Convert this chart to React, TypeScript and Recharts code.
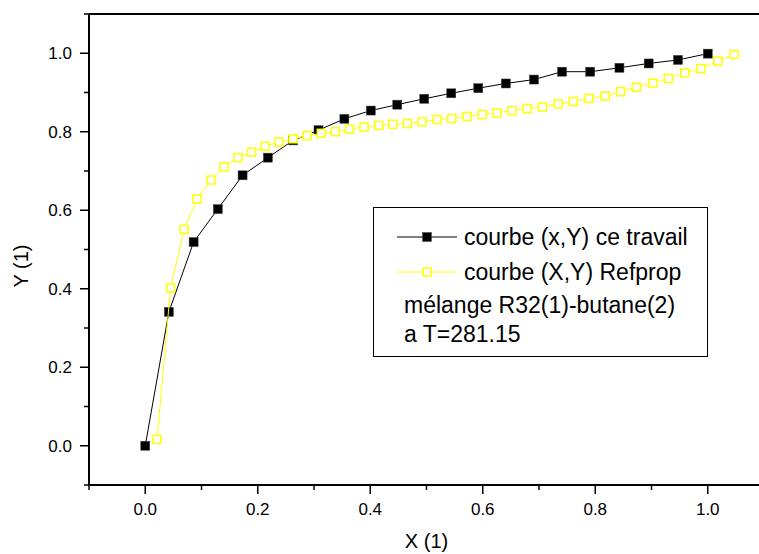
import React from 'react';
import { ScatterChart, Scatter, XAxis, YAxis, ReferenceLine } from 'recharts';

// courbe (x,Y) ce travail
const workX = [0, 0.042, 0.086, 0.129, 0.173, 0.218, 0.263, 0.308, 0.354, 0.401, 0.448, 0.496, 0.544, 0.592, 0.641, 0.691, 0.741, 0.791, 0.843, 0.895, 0.947, 1.0];
const workY = [0, 0.341, 0.519, 0.603, 0.689, 0.734, 0.778, 0.804, 0.833, 0.854, 0.869, 0.884, 0.898, 0.911, 0.923, 0.933, 0.953, 0.953, 0.963, 0.974, 0.983, 0.999];

// courbe (X,Y) Refprop
const refX = [0.021, 0.045, 0.069, 0.092, 0.117, 0.14, 0.165, 0.189, 0.213, 0.238, 0.263, 0.288, 0.313, 0.338, 0.363, 0.389, 0.415, 0.44, 0.466, 0.492, 0.519, 0.545, 0.572, 0.599, 0.625, 0.652, 0.679, 0.706, 0.734, 0.761, 0.789, 0.818, 0.845, 0.873, 0.902, 0.93, 0.959, 0.988, 1.018, 1.047];
const refY = [0.016, 0.402, 0.551, 0.629, 0.677, 0.711, 0.734, 0.748, 0.763, 0.774, 0.782, 0.79, 0.796, 0.8, 0.807, 0.812, 0.816, 0.819, 0.821, 0.825, 0.831, 0.834, 0.839, 0.844, 0.848, 0.854, 0.859, 0.863, 0.871, 0.877, 0.885, 0.891, 0.902, 0.913, 0.924, 0.936, 0.95, 0.961, 0.98, 0.997];

const xTicks = [-0.1, 0, 0.1, 0.2, 0.3, 0.4, 0.5, 0.6, 0.7, 0.8, 0.9, 1.0, 1.1];
const yTicks = [-0.1, 0, 0.1, 0.2, 0.3, 0.4, 0.5, 0.6, 0.7, 0.8, 0.9, 1.0, 1.1];

const workLabel = 'courbe (x,Y) ce travail';
const refLabel = 'courbe (X,Y) Refprop';
const noteLines = ['mélange R32(1)-butane(2)', 'a T=281.15'];

const workData = workX.map((x, i) => ({ x, y: workY[i] }));
const refData = refX.map((x, i) => ({ x, y: refY[i] }));

const FONT = '"Liberation Sans", Arial, sans-serif';

const isMajor = (v: number) => {
  const r = Math.round(v * 10);
  return r >= 0 && r <= 10 && r % 2 === 0;
};

const FilledSquare = ({ cx, cy }: any) => (
  <rect x={cx - 4.5} y={cy - 4.5} width={9} height={9} fill="#000" stroke="#444" strokeWidth={0.5} />
);

const HollowSquare = ({ cx, cy }: any) => (
  <rect x={cx - 4} y={cy - 4} width={8} height={8} fill="#fff" stroke="#ffff00" strokeWidth={1.5} />
);

const XTick = ({ x, y, payload }: any) => {
  const v = payload.value;
  const major = isMajor(v);
  return (
    <g>
      <line x1={x} y1={y} x2={x} y2={y + (major ? 9 : 5)} stroke="#000" strokeWidth={1.5} />
      {major && (
        <text x={x} y={y + 30} textAnchor="middle" fontSize={17} fontFamily={FONT} fill="#000">
          {v.toFixed(1)}
        </text>
      )}
    </g>
  );
};

const YTick = ({ x, y, payload }: any) => {
  const v = payload.value;
  const major = isMajor(v);
  return (
    <g>
      <line x1={x - (major ? 9 : 5)} y1={y} x2={x} y2={y} stroke="#000" strokeWidth={1.5} />
      {major && (
        <text x={x - 17} y={y + 6} textAnchor="end" fontSize={17} fontFamily={FONT} fill="#000">
          {v.toFixed(1)}
        </text>
      )}
    </g>
  );
};

const XTitle = ({ viewBox }: any) => (
  <text x={viewBox.x + viewBox.width / 2} y={viewBox.y + 63} textAnchor="middle" fontSize={20} fontFamily={FONT} fill="#000">
    X (1)
  </text>
);

const YTitle = ({ viewBox }: any) => {
  const cx = 28;
  const cy = 266;
  return (
    <text x={cx} y={cy} transform={`rotate(-90 ${cx} ${cy})`} textAnchor="middle" fontSize={20} fontFamily={FONT} fill="#000">
      Y (1)
    </text>
  );
};

const LegendBox = () => (
  <div style={{ position: 'absolute', left: 373, top: 207, width: 335, height: 150, background: '#fff', border: '1px solid #000', boxSizing: 'border-box' }}>
    <svg width={335} height={150} style={{ position: 'absolute', left: -1, top: -1 }}>
      <line x1={24} y1={30} x2={84} y2={30} stroke="#000" strokeWidth={1} />
      <FilledSquare cx={54} cy={30} />
      <text x={91} y={38} fontSize={23} fontFamily={FONT} fill="#000">{workLabel}</text>
      <line x1={24} y1={65} x2={84} y2={65} stroke="#ffff00" strokeWidth={1} />
      <HollowSquare cx={54} cy={65} />
      <text x={91} y={73} fontSize={23} fontFamily={FONT} fill="#000">{refLabel}</text>
      {noteLines.map((t, i) => (
        <text key={t} x={31} y={106 + i * 29} fontSize={23} fontFamily={FONT} fill="#000">{t}</text>
      ))}
    </svg>
  </div>
);

export default function App() {
  return (
    <div style={{ position: 'absolute', left: 0, top: 0, width: 759, height: 554, overflow: 'hidden', background: '#fff' }}>
      <ScatterChart width={780} height={554} margin={{ top: 14, right: 16, bottom: 0, left: 0 }}>
        <XAxis
          dataKey="x"
          type="number"
          domain={[-0.1, 1.1]}
          allowDataOverflow
          ticks={xTicks}
          interval={0}
          tick={<XTick />}
          tickLine={false}
          tickSize={0}
          tickMargin={0}
          height={69}
          axisLine={{ stroke: '#000', strokeWidth: 2 }}
          label={<XTitle />}
        />
        <YAxis
          dataKey="y"
          type="number"
          domain={[-0.1, 1.1]}
          allowDataOverflow
          ticks={yTicks}
          interval={0}
          tick={<YTick />}
          tickLine={false}
          tickSize={0}
          tickMargin={0}
          width={89}
          axisLine={{ stroke: '#000', strokeWidth: 2 }}
          label={<YTitle />}
        />
        <ReferenceLine y={1.1} stroke="#000" strokeWidth={2} />
        <ReferenceLine x={1.1} stroke="#000" strokeWidth={2} />
        <Scatter
          name={workLabel}
          data={workData}
          line={{ stroke: '#000', strokeWidth: 1 }}
          shape={<FilledSquare />}
          isAnimationActive={false}
        />
        <Scatter
          name={refLabel}
          data={refData}
          line={{ stroke: '#ffff00', strokeWidth: 1 }}
          shape={<HollowSquare />}
          isAnimationActive={false}
        />
      </ScatterChart>
      <LegendBox />
    </div>
  );
}
